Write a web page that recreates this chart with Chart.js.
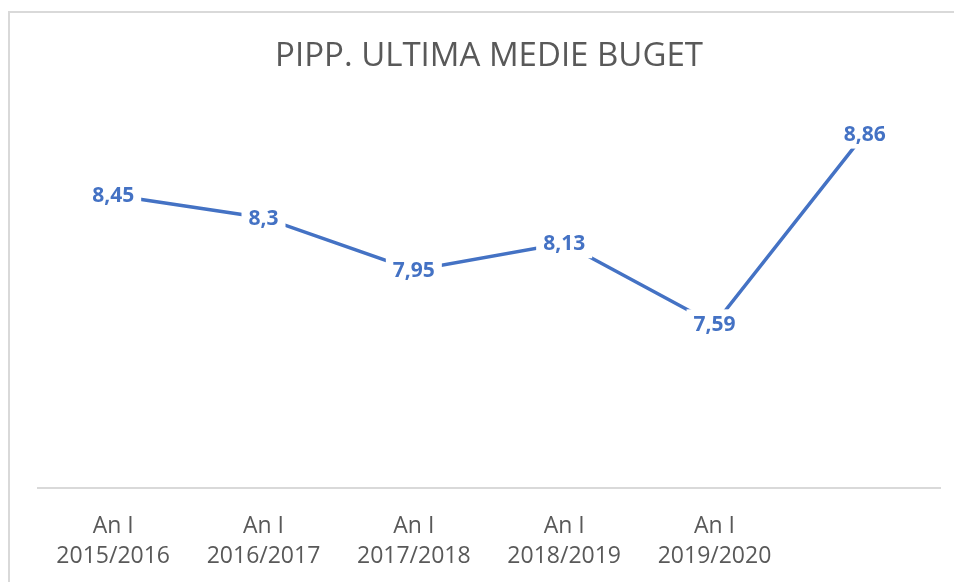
<!DOCTYPE html>
<html>
<head>
<meta charset="utf-8">
<script src="https://cdn.jsdelivr.net/npm/chart.js"></script>
<style>
  html, body { margin: 0; padding: 0; background: #fff; overflow: hidden; }
  .frame { position: absolute; left: 8px; top: 11px; width: 2000px; height: 2000px;
           border-top: 2px solid #d9d9d9; border-left: 2px solid #d9d9d9; }
  canvas { position: absolute; left: 0; top: 0; }
</style>
</head>
<body>
<div class="frame"></div>
<canvas id="chart" width="954" height="582"></canvas>
<script>
  const chartTitle = 'PIPP. ULTIMA MEDIE BUGET';
  const categories = [
    ['An I', '2015/2016'],
    ['An I', '2016/2017'],
    ['An I', '2017/2018'],
    ['An I', '2018/2019'],
    ['An I', '2019/2020'],
    ''
  ];
  const averages = [8.45, 8.3, 7.95, 8.13, 7.59, 8.86];
  const valueLabels = ['8,45', '8,3', '7,95', '8,13', '7,59', '8,86'];

  const blue = '#4472C4';
  const gray = '#595959';
  const fontFamily = '"Open Sans", "DejaVu Sans", sans-serif';

  // value labels drawn on the points, with a white box that hides the line
  const pointLabels = {
    id: 'pointLabels',
    afterDatasetsDraw(chart) {
      const ctx = chart.ctx;
      const meta = chart.getDatasetMeta(0);
      ctx.save();
      ctx.font = 'bold 21px ' + fontFamily;
      ctx.textAlign = 'center';
      ctx.textBaseline = 'middle';
      meta.data.forEach((pt, i) => {
        const txt = valueLabels[i];
        const w = ctx.measureText(txt).width;
        ctx.fillStyle = '#fff';
        ctx.fillRect(pt.x - w / 2 - 7, pt.y - 15, w + 14, 30);
        ctx.fillStyle = blue;
        ctx.fillText(txt, pt.x, pt.y + 1);
      });
      ctx.restore();
    }
  };

  new Chart(document.getElementById('chart'), {
    type: 'line',
    data: {
      labels: categories,
      datasets: [{
        data: averages,
        borderColor: blue,
        borderWidth: 3.5,
        pointRadius: 0,
        tension: 0,
        fill: false
      }]
    },
    options: {
      responsive: false,
      animation: false,
      layout: { padding: { top: 0, left: 38, right: 14, bottom: 0 } },
      plugins: {
        legend: { display: false },
        tooltip: { enabled: false },
        title: {
          display: true,
          text: chartTitle,
          color: gray,
          font: { family: fontFamily, size: 33, weight: 'normal', lineHeight: 1.2 },
          padding: { top: 37, bottom: 36 }
        }
      },
      scales: {
        x: {
          offset: true,
          grid: { display: false, drawTicks: false },
          border: { display: true, color: '#d9d9d9', width: 2 },
          ticks: {
            color: gray,
            font: { family: fontFamily, size: 23, lineHeight: 1.3 },
            padding: 24,
            maxRotation: 0,
            autoSkip: false
          },
          afterFit(scale) { scale.height = 94; }
        },
        y: {
          display: false,
          min: 6.5,
          max: 9
        }
      }
    },
    plugins: [pointLabels]
  });
</script>
</body>
</html>
